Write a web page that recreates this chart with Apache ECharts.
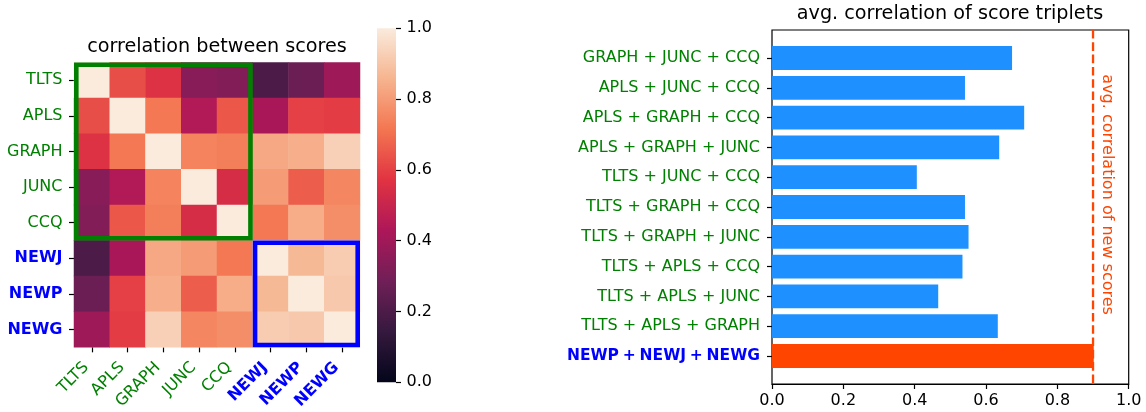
<!DOCTYPE html>
<html><head><meta charset="utf-8">
<script src="https://cdn.jsdelivr.net/npm/echarts@6/dist/echarts.min.js"></script>
<style>html,body{margin:0;padding:0;background:#fff}#c{width:1146px;height:412px}</style>
</head><body><div id="c"></div>
<script>
// ---------- data ----------
const scores = ['TLTS', 'APLS', 'GRAPH', 'JUNC', 'CCQ', 'NEWJ', 'NEWP', 'NEWG'];
const newScores = ['NEWJ', 'NEWP', 'NEWG'];
const corrTLTS  = [1.00, 0.63, 0.56, 0.34, 0.33, 0.20, 0.27, 0.39];
const corrAPLS  = [0.63, 1.00, 0.72, 0.44, 0.65, 0.42, 0.60, 0.59];
const corrGRAPH = [0.56, 0.72, 1.00, 0.745, 0.735, 0.83, 0.845, 0.93];
const corrJUNC  = [0.34, 0.44, 0.745, 1.00, 0.54, 0.80, 0.66, 0.75];
const corrCCQ   = [0.33, 0.65, 0.735, 0.54, 1.00, 0.72, 0.84, 0.77];
const corrNEWJ  = [0.20, 0.42, 0.83, 0.80, 0.72, 1.00, 0.87, 0.92];
const corrNEWP  = [0.27, 0.60, 0.845, 0.66, 0.84, 0.87, 1.00, 0.91];
const corrNEWG  = [0.39, 0.59, 0.93, 0.75, 0.77, 0.92, 0.91, 1.00];
const corrRows = [corrTLTS, corrAPLS, corrGRAPH, corrJUNC, corrCCQ, corrNEWJ, corrNEWP, corrNEWG];
const boxGroups = [[0, 4], [5, 7]];          // first/last score index of each outlined block
const colorbarTicks = [0, 0.2, 0.4, 0.6, 0.8, 1.0];

const triplets = [
  'GRAPH + JUNC + CCQ', 'APLS + JUNC + CCQ', 'APLS + GRAPH + CCQ', 'APLS + GRAPH + JUNC',
  'TLTS + JUNC + CCQ', 'TLTS + GRAPH + CCQ', 'TLTS + GRAPH + JUNC', 'TLTS + APLS + CCQ',
  'TLTS + APLS + JUNC', 'TLTS + APLS + GRAPH', 'NEWP + NEWJ + NEWG'
];
const tripletValues = [0.673, 0.541, 0.707, 0.637, 0.406, 0.541, 0.551, 0.534, 0.466, 0.633, 0.902];
const newTriplet = 'NEWP + NEWJ + NEWG';
const newAvgCorr = 0.90;
const barTicks = [0, 0.2, 0.4, 0.6, 0.8, 1.0];

// ---------- styles ----------
const FONT = 'DejaVu Sans';
const FS = 16;
const GREEN = '#008000', BLUE = '#0000ff';
const BAR_BLUE = '#1e90ff', ORANGERED = '#ff4500';
const rocket = ['#03051a', '#35193e', '#701f57', '#ad1759', '#e13342', '#f37651', '#f6b48f', '#faebdd'];

const heatData = [];
corrRows.forEach((row, yi) => row.forEach((v, xi) => heatData.push([xi, yi, v])));

const isNew = s => newScores.includes(s);
const scoreCats = scores.map(s => ({
  value: s,
  textStyle: isNew(s) ? { color: BLUE, fontWeight: 'bold' } : { color: GREEN }
}));
const tripletCats = triplets.map(t => ({
  value: t,
  textStyle: t === newTriplet ? { color: BLUE } : { color: GREEN }
}));

const tickStyle = { show: true, length: 5, lineStyle: { color: '#000', width: 1.2 } };

const chart = echarts.init(document.getElementById('c'), null, { renderer: 'canvas' });
chart.setOption({
  animation: false,
  textStyle: { fontFamily: FONT },
  graphic: [
    { type: 'text', x: 217, y: 47, style: { text: 'correlation between scores', font: `19.2px "${FONT}"`, fill: '#000', align: 'center', verticalAlign: 'middle' } },
    { type: 'text', x: 950, y: 14.5, style: { text: 'avg. correlation of score triplets', font: `19.2px "${FONT}"`, fill: '#000', align: 'center', verticalAlign: 'middle' } }
  ],
  grid: [
    { left: 74, top: 62.5, width: 286, height: 286 },                 // 0 heatmap
    { left: 377, top: 28.3, width: 19, height: 354 },                 // 1 colorbar
    { left: 772, top: 30, width: 356.7, height: 354, show: true, borderColor: '#000', borderWidth: 1.2, backgroundColor: 'transparent' }, // 2 bar frame
    { left: 772, top: 43.1, width: 356.7, height: 327.8 }             // 3 bar categories
  ],
  xAxis: [
    { gridIndex: 0, type: 'category', data: scoreCats, axisLine: { show: false, onZero: false },
      axisTick: Object.assign({ alignWithLabel: true }, tickStyle), splitLine: { show: false },
      axisLabel: { rotate: 45, fontSize: FS, fontFamily: FONT, margin: 12, padding: [0, 8, 0, 0], interval: 0 } },
    { gridIndex: 1, type: 'value', min: 0, max: 1, show: false },
    { gridIndex: 2, type: 'value', min: 0, max: 1, interval: 0.2,
      axisLine: { show: true, onZero: false, lineStyle: { color: '#000', width: 1.2 } },
      axisTick: tickStyle, splitLine: { show: false },
      axisLabel: { fontSize: FS, fontFamily: FONT, color: '#000', margin: 9, formatter: v => v.toFixed(1) } },
    { gridIndex: 3, type: 'value', min: 0, max: 1, show: false }
  ],
  yAxis: [
    { gridIndex: 0, type: 'category', data: scoreCats, inverse: true, axisLine: { show: false, onZero: false },
      axisTick: Object.assign({ alignWithLabel: true }, tickStyle), splitLine: { show: false },
      axisLabel: { fontSize: FS, fontFamily: FONT, margin: 11.5, interval: 0 } },
    { gridIndex: 1, type: 'value', min: 0, max: 1, interval: 0.2, position: 'right',
      axisLine: { show: false, onZero: false }, axisTick: tickStyle, splitLine: { show: false },
      axisLabel: { fontSize: FS, fontFamily: FONT, color: '#000', margin: 10.5, formatter: v => v.toFixed(1) } },
    { gridIndex: 2, type: 'value', min: 0, max: 1, show: false },
    { gridIndex: 3, type: 'category', data: tripletCats, inverse: true, axisLine: { show: false, onZero: false },
      axisTick: Object.assign({ alignWithLabel: true }, tickStyle),
      axisLabel: { fontSize: FS, fontFamily: FONT, margin: 12, interval: 0,
        formatter: v => v === newTriplet ? v.split(' ').map(w => `{b|${w}}`).join('{s| }') : v,
        rich: {
          b: { color: BLUE, fontWeight: 'bold', fontSize: 15.5, fontFamily: FONT },
          s: { fontSize: 12, fontFamily: FONT }
        } } }
  ],
  visualMap: {
    show: false, type: 'continuous', min: 0, max: 1, seriesIndex: 0,
    inRange: { color: rocket }
  },
  series: [
    { type: 'heatmap', xAxisIndex: 0, yAxisIndex: 0, data: heatData, itemStyle: { borderWidth: 0 } },
    { type: 'custom', xAxisIndex: 0, yAxisIndex: 0, silent: true, z: 5,
      data: boxGroups.map((g, i) => [g[0], g[0], g[1], i]),
      renderItem: (params, api) => {
        const s = api.value(0), e = api.value(2), idx = api.value(3);
        const c = api.coord([s, s]);
        const sz = api.size([1, 1]);
        const cw = Math.abs(sz[0]), ch = Math.abs(sz[1]);
        const n = e - s + 1, lw = 4.6;
        return { type: 'rect',
          shape: { x: c[0] - cw / 2 + lw / 2, y: c[1] - ch / 2 + lw / 2, width: n * cw - lw, height: n * ch - lw },
          style: { fill: 'none', stroke: idx === 0 ? GREEN : BLUE, lineWidth: lw } };
      } },
    { type: 'custom', xAxisIndex: 1, yAxisIndex: 1, silent: true,
      data: [[0, 1]],
      renderItem: (params, api) => {
        const p0 = api.coord([0, api.value(0)]);
        const p1 = api.coord([1, api.value(1)]);
        return { type: 'rect',
          shape: { x: p0[0], y: p1[1], width: p1[0] - p0[0], height: p0[1] - p1[1] },
          style: { fill: new echarts.graphic.LinearGradient(0, 1, 0, 0,
            rocket.map((col, i) => ({ offset: i / (rocket.length - 1), color: col }))) } };
      } },
    { type: 'bar', xAxisIndex: 3, yAxisIndex: 3, barWidth: '80%',
      data: tripletValues.map((v, i) => ({ value: v, itemStyle: { color: triplets[i] === newTriplet ? ORANGERED : BAR_BLUE } })) },
    { type: 'custom', xAxisIndex: 2, yAxisIndex: 2, silent: true, z: 6,
      data: [[newAvgCorr]],
      renderItem: (params, api) => {
        const v = api.value(0);
        const top = api.coord([v, 1]), bot = api.coord([v, 0]), mid = api.coord([v, 0.535]);
        return { type: 'group', children: [
          { type: 'line', shape: { x1: top[0], y1: top[1], x2: bot[0], y2: bot[1] },
            style: { stroke: ORANGERED, lineWidth: 2.3, lineDash: [8.6, 3.7] } },
          { type: 'text', x: mid[0] + 14, y: mid[1], rotation: -Math.PI / 2,
            style: { text: 'avg. correlation of new scores', fill: ORANGERED, font: `${FS}px "${FONT}"`, align: 'center', verticalAlign: 'middle' } }
        ] };
      } }
  ]
});
</script></body></html>
